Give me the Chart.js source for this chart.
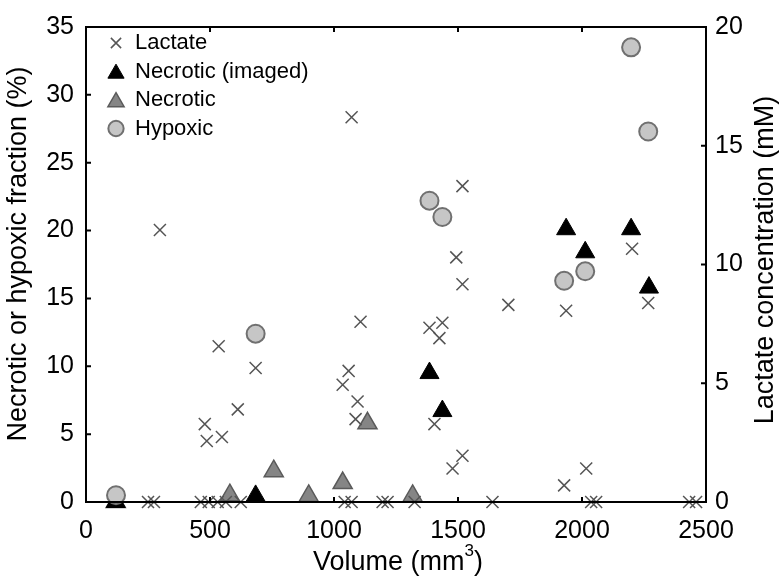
<!DOCTYPE html>
<html>
<head>
<meta charset="utf-8">
<script src="https://cdn.jsdelivr.net/npm/chart.js@4/dist/chart.umd.min.js"></script>
<style>
  html, body { margin: 0; padding: 0; background: #fff; }
  #wrap { width: 780px; height: 580px; }
</style>
</head>
<body>
<div id="wrap"><canvas id="c" width="780" height="580"></canvas></div>
<script>
// data
const lactateVol = [250, 274, 298, 463, 479, 487, 495, 531, 535, 548, 564, 612, 624, 684, 1035, 1043, 1059, 1071, 1071, 1087, 1095, 1107, 1196, 1216, 1325, 1385, 1405, 1425, 1437, 1478, 1493, 1518, 1518, 1518, 1639, 1703, 1928, 1936, 2017, 2037, 2057, 2202, 2267, 2432, 2460];
const lactateMM  = [0, 0, 11.45, 0, 3.28, 2.57, 0, 0, 6.56, 2.74, 0, 3.9, 0, 5.64, 4.94, 0, 5.52, 16.2, 0, 3.49, 4.23, 7.59, 0, 0, 0, 7.34, 3.28, 6.9, 7.55, 1.41, 10.3, 13.3, 9.17, 1.95, 0, 8.3, 0.7, 8.05, 1.41, 0, 0, 10.66, 8.38, 0, 0];

const necImgVol = [120, 684, 1385, 1437, 1936, 2013, 2198, 2270];
const necImgPct = [0, 0.45, 9.5, 6.7, 20.1, 18.4, 20.1, 15.8];

const necVol = [120, 580, 757, 898, 1035, 1135, 1317];
const necPct = [0, 0.5, 2.27, 0.45, 1.4, 5.8, 0.45];

const hypVol = [121, 684, 1385, 1437, 1928, 2013, 2198, 2267];
const hypPct = [0.5, 12.4, 22.2, 21.0, 16.3, 17.0, 33.5, 27.3];

const xTicks = [0, 500, 1000, 1500, 2000, 2500];
const leftTicks = [0, 5, 10, 15, 20, 25, 30, 35];
const rightTicks = [0, 5, 10, 15, 20];

const pts = (xs, ys) => xs.map((x, i) => ({ x: x, y: ys[i] }));

const FONT = 'Liberation Sans, Arial, sans-serif';

// marker styles (shared by datasets and legend)
const styles = {
  lactate: { pointStyle: 'crossRot', radius: 8.5, bg: '#555', border: '#555', bw: 1.5 },
  necImg:  { pointStyle: 'triangle', radius: 11, bg: '#000', border: '#000', bw: 1 },
  nec:     { pointStyle: 'triangle', radius: 11, bg: '#858585', border: '#5a5a5a', bw: 1.5 },
  hyp:     { pointStyle: 'circle', radius: 9, bg: '#c6c6c6', border: '#707070', bw: 2 }
};

function ds(label, data, st, axis) {
  return {
    label: label, data: data, yAxisID: axis, clip: false,
    pointStyle: st.pointStyle, pointRadius: st.radius, pointHoverRadius: st.radius,
    pointBackgroundColor: st.bg, pointBorderColor: st.border, pointBorderWidth: st.bw,
    showLine: false
  };
}

function drawShape(ctx, st, x, y, r) {
  ctx.save();
  ctx.fillStyle = st.bg; ctx.strokeStyle = st.border; ctx.lineWidth = st.bw;
  ctx.beginPath();
  if (st.pointStyle === 'circle') {
    ctx.arc(x, y, r, 0, Math.PI * 2);
    ctx.fill(); ctx.stroke();
  } else if (st.pointStyle === 'triangle') {
    ctx.moveTo(x, y - r);
    ctx.lineTo(x + r * 0.866, y + r / 2);
    ctx.lineTo(x - r * 0.866, y + r / 2);
    ctx.closePath();
    ctx.fill(); ctx.stroke();
  } else {
    const o = r * 0.707;
    ctx.moveTo(x - o, y - o); ctx.lineTo(x + o, y + o);
    ctx.moveTo(x + o, y - o); ctx.lineTo(x - o, y + o);
    ctx.stroke();
  }
  ctx.restore();
}

// frame, inward ticks, axis titles and legend
const decor = {
  id: 'decor',
  afterDraw(chart) {
    const { ctx, chartArea: a, scales } = chart;
    ctx.save();
    ctx.strokeStyle = '#000';
    ctx.lineWidth = 2;
    ctx.strokeRect(a.left, a.top, a.right - a.left, a.bottom - a.top);
    const tl = 5;
    ctx.beginPath();
    xTicks.forEach(v => {
      const px = scales.x.getPixelForValue(v);
      ctx.moveTo(px, a.bottom); ctx.lineTo(px, a.bottom - tl);
      ctx.moveTo(px, a.top); ctx.lineTo(px, a.top + tl);
    });
    leftTicks.forEach(v => {
      const py = scales.y.getPixelForValue(v);
      ctx.moveTo(a.left, py); ctx.lineTo(a.left + tl, py);
    });
    rightTicks.forEach(v => {
      const py = scales.y1.getPixelForValue(v);
      ctx.moveTo(a.right, py); ctx.lineTo(a.right - tl, py);
    });
    ctx.stroke();

    // axis titles
    ctx.fillStyle = '#000';
    ctx.font = '27px ' + FONT;
    ctx.textBaseline = 'middle';
    ctx.textAlign = 'center';
    ctx.save();
    ctx.translate(19, 254);
    ctx.rotate(-Math.PI / 2);
    ctx.fillText('Necrotic or hypoxic fraction (%)', 0, 0);
    ctx.restore();
    ctx.save();
    ctx.translate(766, 260);
    ctx.rotate(-Math.PI / 2);
    ctx.fillText('Lactate concentration (mM)', 0, 0);
    ctx.restore();

    const main = 'Volume (mm', sup = '3', tail = ')';
    ctx.font = '27px ' + FONT;
    const w1 = ctx.measureText(main).width, w3 = ctx.measureText(tail).width;
    ctx.font = '17px ' + FONT;
    const w2 = ctx.measureText(sup).width;
    const x0 = 398 - (w1 + w2 + w3) / 2;
    const yb = 563;
    ctx.textAlign = 'left';
    ctx.font = '27px ' + FONT;
    ctx.fillText(main, x0, yb);
    ctx.font = '17px ' + FONT;
    ctx.fillText(sup, x0 + w1, yb - 12);
    ctx.font = '27px ' + FONT;
    ctx.fillText(tail, x0 + w1 + w2, yb);

    // legend
    const items = [['Lactate', styles.lactate], ['Necrotic (imaged)', styles.necImg], ['Necrotic', styles.nec], ['Hypoxic', styles.hyp]];
    ctx.font = '22px ' + FONT;
    items.forEach((it, i) => {
      const y = 43 + i * 28.5;
      const st = it[1];
      drawShape(ctx, st, 116, y + (st.pointStyle === 'triangle' ? 2 : 0), st.radius * 0.85);
      ctx.fillStyle = '#000';
      ctx.fillText(it[0], 135, y);
    });
    ctx.restore();
  }
};

const tickFont = { family: FONT, size: 25 };
const plain = v => String(v);

new Chart(document.getElementById('c'), {
  type: 'scatter',
  data: {
    datasets: [
      ds('Hypoxic', pts(hypVol, hypPct), styles.hyp, 'y'),
      ds('Lactate', pts(lactateVol, lactateMM), styles.lactate, 'y1'),
      ds('Necrotic (imaged)', pts(necImgVol, necImgPct), styles.necImg, 'y'),
      ds('Necrotic', pts(necVol, necPct), styles.nec, 'y')
    ]
  },
  options: {
    responsive: false,
    animation: false,
    events: [],
    layout: { padding: { top: 20, left: 0, right: 0, bottom: 0 } },
    plugins: { legend: { display: false }, tooltip: { enabled: false } },
    scales: {
      x: {
        type: 'linear', min: 0, max: 2500,
        afterFit: s => { s.height = 78; },
        afterBuildTicks: s => { s.ticks = xTicks.map(v => ({ value: v })); },
        grid: { display: false, drawTicks: false },
        border: { display: false },
        ticks: { font: tickFont, color: '#000', padding: 14, maxRotation: 0, callback: plain }
      },
      y: {
        type: 'linear', position: 'left', min: 0, max: 35,
        afterFit: s => { s.width = 86; },
        afterBuildTicks: s => { s.ticks = leftTicks.map(v => ({ value: v })); },
        grid: { display: false, drawTicks: false },
        border: { display: false },
        ticks: { font: tickFont, color: '#000', padding: 12, callback: plain }
      },
      y1: {
        type: 'linear', position: 'right', min: 0, max: 20,
        afterFit: s => { s.width = 74; },
        afterBuildTicks: s => { s.ticks = rightTicks.map(v => ({ value: v })); },
        grid: { display: false, drawTicks: false },
        border: { display: false },
        ticks: { font: tickFont, color: '#000', padding: 9, callback: plain }
      }
    }
  },
  plugins: [decor]
});
</script>
</body>
</html>
